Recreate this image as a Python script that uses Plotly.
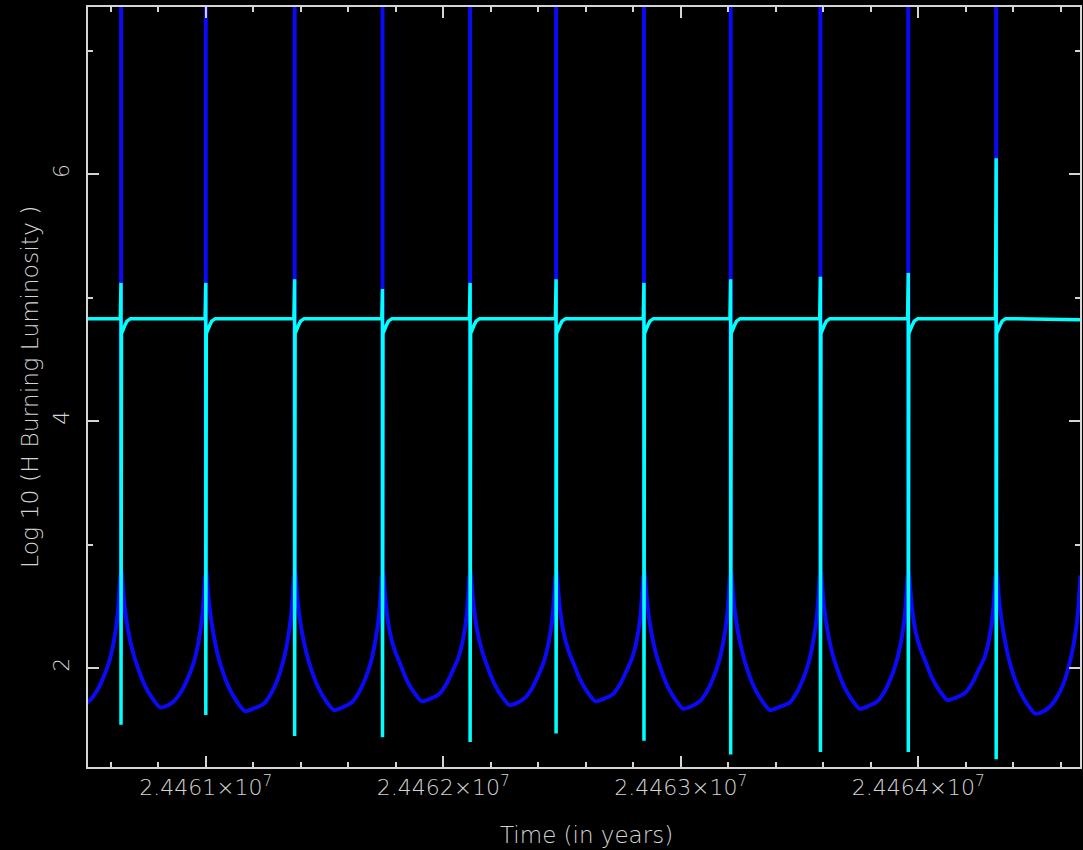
import plotly.graph_objects as go

# ---------------- data ----------------
# times of the thermal pulses (years)
pulse_years = [24460643, 24461000, 24461374, 24461744, 24462113, 24462475,
               24462845, 24463210, 24463588, 24463958, 24464328]
next_pulse_after_edge = 24464686   # next (off-chart) pulse, blue rises towards it

x_range = [24460504, 24464681]
y_range = [1.198, 7.355]

# Blue curve: interpulse behaviour
blue_decay_offsets_yr = [3, 15, 30, 50, 75, 100, 130, 165, 200]   # years after a pulse
blue_rise_offsets_yr = [130, 100, 75, 50, 30, 15, 3]              # years before the next pulse
blue_left_edge = (24460500, 1.72)

blue_decay_logL = [
    [2.78, 2.50, 2.30, 2.13, 1.98, 1.86, 1.76, 1.68, 1.70],
    [2.78, 2.50, 2.30, 2.11, 1.95, 1.83, 1.73, 1.65, 1.67],
    [2.78, 2.50, 2.30, 2.12, 1.96, 1.84, 1.74, 1.66, 1.68],
    [2.78, 2.50, 2.30, 2.15, 2.03, 1.91, 1.81, 1.73, 1.75],
    [2.78, 2.50, 2.30, 2.14, 2.00, 1.88, 1.78, 1.70, 1.72],
    [2.78, 2.50, 2.30, 2.15, 2.03, 1.91, 1.81, 1.73, 1.75],
    [2.78, 2.50, 2.30, 2.12, 1.97, 1.85, 1.75, 1.67, 1.69],
    [2.78, 2.50, 2.30, 2.12, 1.96, 1.84, 1.74, 1.66, 1.68],
    [2.78, 2.50, 2.30, 2.12, 1.97, 1.85, 1.75, 1.67, 1.69],
    [2.78, 2.50, 2.30, 2.16, 2.04, 1.92, 1.82, 1.74, 1.76],
    [2.78, 2.50, 2.30, 2.10, 1.93, 1.81, 1.71, 1.63, 1.65],
]
# rise before pulse 1..11 and before the off-chart pulse
blue_rise_logL = [
    [1.74, 1.82, 1.92, 2.05, 2.22, 2.42, 2.75],
    [1.74, 1.82, 1.92, 2.05, 2.22, 2.42, 2.75],
    [1.71, 1.79, 1.89, 2.04, 2.22, 2.42, 2.75],
    [1.72, 1.80, 1.90, 2.04, 2.22, 2.42, 2.75],
    [1.79, 1.87, 1.97, 2.08, 2.23, 2.42, 2.75],
    [1.76, 1.84, 1.94, 2.06, 2.22, 2.42, 2.75],
    [1.79, 1.87, 1.97, 2.08, 2.23, 2.42, 2.75],
    [1.73, 1.81, 1.91, 2.05, 2.22, 2.42, 2.75],
    [1.72, 1.80, 1.90, 2.04, 2.22, 2.42, 2.75],
    [1.73, 1.81, 1.91, 2.05, 2.22, 2.42, 2.75],
    [1.80, 1.88, 1.98, 2.08, 2.23, 2.42, 2.75],
    [1.69, 1.77, 1.87, 2.03, 2.21, 2.42, 2.75],
]
blue_spike_base = 2.75
blue_spike_top = 7.6

# Cyan curve
cyan_base = 4.83
cyan_top = [5.12, 5.12, 5.15, 5.07, 5.12, 5.15, 5.12, 5.15, 5.17, 5.20, 6.13]
cyan_bottom = [1.54, 1.62, 1.45, 1.44, 1.40, 1.47, 1.41, 1.30, 1.32, 1.32, 1.26]
cyan_recovery_offsets_yr = [2, 15, 25, 40]
cyan_recovery_logL = [4.71, 4.77, 4.81, 4.83]

x_tickvals = [24461000, 24462000, 24463000, 24464000]
x_ticktext = ["2.4461×10<sup>7</sup>", "2.4462×10<sup>7</sup>",
              "2.4463×10<sup>7</sup>", "2.4464×10<sup>7</sup>"]
y_tickvals = [2, 4, 6]
y_ticktext = ["2", "4", "6"]

# ---------------- build traces ----------------
BLUE = "#0a0af5"
CYAN = "#00ffff"
FG = "#d4d4d4"
FONT = "DejaVu Sans"

bx, by = [blue_left_edge[0]], [blue_left_edge[1]]
nexts = pulse_years[1:] + [next_pulse_after_edge]
for off, v in zip(blue_rise_offsets_yr, blue_rise_logL[0]):
    bx.append(pulse_years[0] - off); by.append(v)
bx.append(None); by.append(None)
for i, tp in enumerate(pulse_years):
    for off, v in zip(blue_decay_offsets_yr, blue_decay_logL[i]):
        bx.append(tp + off); by.append(v)
    for off, v in zip(blue_rise_offsets_yr, blue_rise_logL[i + 1]):
        bx.append(nexts[i] - off); by.append(v)
    bx.append(None); by.append(None)

sx, sy = [], []
for tp in pulse_years:
    sx += [tp, tp, None]
    sy += [blue_spike_base, blue_spike_top, None]

cx, cy = [x_range[0] - 10], [cyan_base]
for i, tp in enumerate(pulse_years):
    cx += [tp - 3, tp, tp, tp + 1]
    cy += [cyan_base, cyan_top[i], cyan_bottom[i], cyan_bottom[i]]
    for off, v in zip(cyan_recovery_offsets_yr, cyan_recovery_logL):
        cx.append(tp + off); cy.append(v)
cx.append(x_range[1] + 20); cy.append(cyan_base - 0.01)

fig = go.Figure()
fig.add_trace(go.Scatter(x=bx, y=by, mode="lines",
                         line=dict(color=BLUE, width=4, shape="spline", smoothing=0.6),
                         connectgaps=False, hoverinfo="skip"))
fig.add_trace(go.Scatter(x=sx, y=sy, mode="lines", line=dict(color=BLUE, width=4),
                         hoverinfo="skip"))
fig.add_trace(go.Scatter(x=cx, y=cy, mode="lines", line=dict(color=CYAN, width=3.5),
                         hoverinfo="skip"))

tickfont = dict(family=FONT, size=22, color=FG, weight=200)
axis_common = dict(
    showgrid=False, zeroline=False, showline=True, linecolor=FG, linewidth=2,
    mirror="allticks", ticks="inside", ticklen=11, tickwidth=2, tickcolor=FG,
    tickfont=tickfont,
)

fig.update_layout(
    width=1083, height=850,
    paper_bgcolor="black", plot_bgcolor="black",
    margin=dict(l=88, r=1, t=7, b=83),
    showlegend=False,
    xaxis=dict(range=x_range, tickmode="array", tickvals=x_tickvals, ticktext=x_ticktext,
               minor=dict(tickmode="linear", tick0=24461000, dtick=200, ticks="inside",
                          ticklen=5, tickwidth=2, tickcolor=FG),
               **axis_common),
    yaxis=dict(range=y_range, tickmode="array", tickvals=y_tickvals, ticktext=y_ticktext,
               tickangle=-90, ticklabelstandoff=8,
               minor=dict(tickmode="linear", tick0=1, dtick=1, ticks="inside",
                          ticklen=5, tickwidth=2, tickcolor=FG),
               **axis_common),
    annotations=[
        dict(text="Time (in years)", xref="paper", yref="paper", x=0.5, y=0,
             xshift=2, yshift=-68, xanchor="center", yanchor="middle",
             showarrow=False, font=dict(family=FONT, size=23, color=FG, weight=200)),
        dict(text="Log 10 (H Burning Luminosity )", xref="paper", yref="paper", x=0, y=0.5,
             xshift=-58, xanchor="center", yanchor="middle", textangle=-90,
             showarrow=False, font=dict(family=FONT, size=23.5, color=FG, weight=200)),
    ],
)

fig.write_html("out.html", config={"displayModeBar": False},
               post_script="document.body.style.margin='0';")
